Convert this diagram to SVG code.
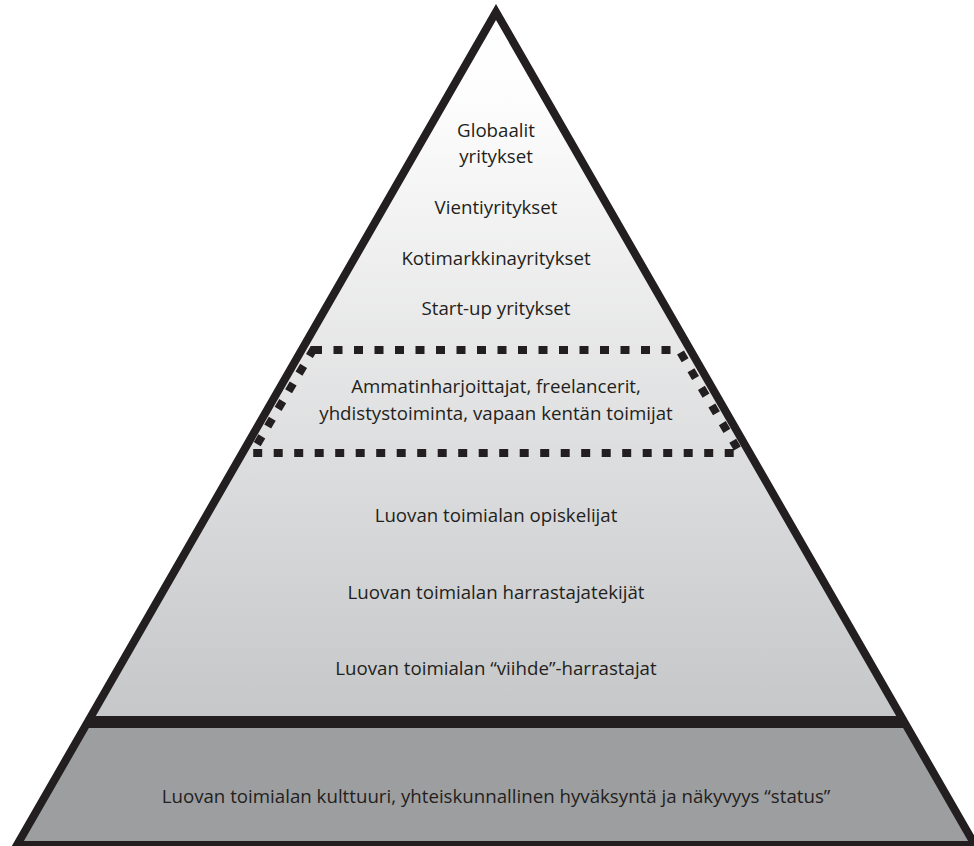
<svg xmlns="http://www.w3.org/2000/svg" width="974" height="846" viewBox="0 0 974 846">
<defs>
<linearGradient id="g" gradientUnits="userSpaceOnUse" x1="0" y1="12" x2="0" y2="716">
<stop offset="0" stop-color="#ffffff"/>
<stop offset="0.12" stop-color="#fdfdfd"/>
<stop offset="1" stop-color="#c6c7c9"/>
</linearGradient>
<style>
text{font-family:"Open Sans","Noto Sans","Liberation Sans",sans-serif;font-size:18.7px;fill:#231f20;text-anchor:middle}
.outline{fill:none;stroke:#231f20;stroke-width:8;stroke-linejoin:miter;stroke-miterlimit:10}
.dash{fill:none;stroke:#231f20;stroke-width:8;stroke-dasharray:9 11.5}
</style>
</defs>
<rect width="974" height="846" fill="#ffffff"/>
<g id="pyramid">
<polygon points="496,12 17,845 975,845" fill="url(#g)"/>
<polygon points="87.7,722 904.3,722 975,845 17,845" fill="#9d9ea0"/>
<polygon points="91.2,716 900.8,716 907.7,728 84.3,728" fill="#231f20"/>
<polygon class="outline" points="496,12 17,845 975,845"/>
</g>
<g id="dashed-zone">
<polygon class="dash" points="313,350 679,350 740,453 252,453"/>
</g>
<g id="n-globaalit"><text x="496" y="137">Globaalit</text><text x="496" y="163">yritykset</text></g>
<g id="n-vienti"><text x="496" y="214">Vientiyritykset</text></g>
<g id="n-koti"><text x="496" y="265">Kotimarkkinayritykset</text></g>
<g id="n-startup"><text x="496" y="315">Start-up yritykset</text></g>
<g id="n-ammatin"><text x="496" y="393">Ammatinharjoittajat, freelancerit,</text><text x="496" y="420">yhdistystoiminta, vapaan kentän toimijat</text></g>
<g id="n-opiskelijat"><text x="496" y="522">Luovan toimialan opiskelijat</text></g>
<g id="n-harrastajatekijat"><text x="496" y="599">Luovan toimialan harrastajatekijät</text></g>
<g id="n-viihde"><text x="496" y="675">Luovan toimialan “viihde”-harrastajat</text></g>
<g id="n-kulttuuri"><text x="496" y="803">Luovan toimialan kulttuuri, yhteiskunnallinen hyväksyntä ja näkyvyys “status”</text></g>
</svg>
